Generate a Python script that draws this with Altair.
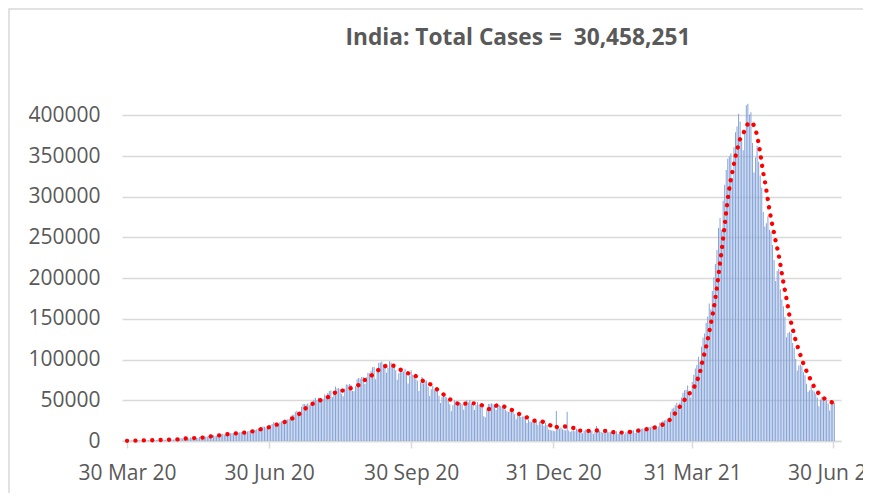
import altair as alt
import pandas as pd

# Daily new cases (values read from the chart / estimated)
mar20 = [227, 146]
apr20 = [437, 545, 478, 515, 506, 1190, 533, 605, 809, 873,
         848, 758, 1243, 1031, 886, 1061, 922, 1371, 1580, 1239,
         1537, 1292, 1667, 1408, 1835, 1607, 1561, 1873, 1738, 1801]
may20 = [2396, 2564, 2952, 3656, 2971, 3602, 3344, 3339, 3175, 4311,
         3592, 3562, 3726, 3967, 3970, 4987, 5050, 4630, 5611, 5609,
         5609, 6088, 6654, 6767, 6977, 6535, 6387, 7466, 7964, 8380,
         8789]
jun20 = [8000, 8600, 8900, 9300, 9400, 9500, 9500, 9500, 9500, 10200,
         10600, 11000, 10600, 9900, 10300, 11800, 12400, 13200, 13900, 13400,
         13500, 14400, 15200, 15500, 16600, 17700, 17400, 16700, 17100, 17800]
jul20 = [19300, 21000, 22900, 22400, 20500, 21000, 22900, 24400, 25000, 26400,
         26500, 26300, 27100, 30100, 32200, 32200, 35900, 37300, 34300, 34800,
         42100, 45500, 45100, 44900, 46000, 44000, 44700, 48100, 50800, 52700,
         50500]
aug20 = [53000, 50000, 50500, 52000, 57000, 55000, 59000, 61500, 62064, 53601,
         60963, 66999, 64553, 65002, 63490, 57981, 55079, 64531, 69652, 68898,
         69878, 69239, 61408, 60975, 67151, 75760, 77266, 76472, 78761, 78512,
         69921]
sep20 = [78357, 83883, 83341, 86432, 90632, 90802, 75809, 89706, 95735, 96551,
         97570, 94372, 92071, 83809, 90123, 97894, 96424, 93337, 92605, 86961,
         75083, 83347, 86508, 86052, 85362, 88600, 82170, 70589, 80472, 86821]
oct20 = [81484, 79476, 75829, 74442, 61267, 72049, 78524, 70496, 73272, 74383,
         66732, 55342, 63509, 67708, 63371, 62212, 61871, 55722, 46790, 54044,
         55839, 54366, 53370, 50129, 45149, 36470, 43893, 49881, 48648, 48268,
         46963]
nov20 = [46964, 45231, 38310, 46253, 50210, 47638, 50357, 45674, 45903, 38073,
         44281, 47905, 44879, 44684, 41100, 30548, 29164, 38617, 45576, 45882,
         46232, 45209, 44059, 37975, 44376, 44489, 43082, 41322, 41810, 38772]
dec20 = [36604, 35551, 36595, 36652, 36011, 32981, 26567, 32080, 31521, 29398,
         30006, 30254, 27071, 22065, 26382, 24010, 22889, 25153, 26624, 24337,
         19556, 23950, 24712, 23068, 18732, 22272, 19500, 14000, 13500, 13000,
         12500]
jan21 = [12000, 37000, 15500, 15000, 16500, 14500, 13500, 13000, 36000, 13000,
         11000, 12500, 13000, 12000, 15000, 14000, 12500, 11000, 9500, 13000,
         14000, 13500, 13000, 13500, 12500, 8500, 11500, 18400, 12000, 12500,
         11000]
feb21 = [10200, 11900, 10800, 11400, 10800, 11100, 10900, 8400, 10200, 11900,
         8600, 11200, 11200, 10700, 8400, 10700, 11900, 12200, 12900, 13100,
         13100, 9700, 12700, 15400, 15300, 15200, 15400, 14300]
mar21 = [12286, 14989, 17407, 16838, 18327, 18711, 18599, 15388, 17921, 22854,
         23285, 24882, 25320, 26291, 24492, 28903, 35871, 39726, 40953, 43846,
         46951, 40715, 47262, 53476, 59118, 62258, 62714, 68020, 56211, 53480,
         72330]
apr21 = [81466, 89129, 93249, 103558, 96982, 115736, 126789, 131968, 145384, 152879,
         168912, 161736, 184372, 200739, 217353, 234692, 261500, 273810, 259170, 295041,
         314835, 332730, 346786, 349691, 352991, 323144, 360960, 379257, 386452, 401993]
may21 = [392488, 368147, 357229, 382315, 412262, 414188, 401078, 403738, 366161, 329942,
         348421, 362727, 343144, 326098, 311170, 281386, 263533, 267334, 276110, 259551,
         257299, 240842, 222315, 196427, 208921, 211298, 186364, 173790, 165553, 152734,
         127510]
jun21 = [132788, 134154, 132364, 120529, 114460, 100636, 86498, 92596, 94052, 91702,
         84332, 80834, 70421, 60471, 62224, 67208, 62480, 60753, 58419, 53256,
         42640, 50848, 54069, 51667, 48698, 50040, 46148, 37566, 45951, 48786]
jul21 = [46617]

cases = (mar20 + apr20 + may20 + jun20 + jul20 + aug20 + sep20 + oct20 + nov20
         + dec20 + jan21 + feb21 + mar21 + apr21 + may21 + jun21 + jul21)
dates = pd.date_range("2020-03-30", "2021-07-01", freq="D").strftime("%Y-%m-%d")
assert len(cases) == len(dates)

tick_dates = ["2020-03-30", "2020-06-30", "2020-09-30", "2020-12-31", "2021-03-31", "2021-06-30"]
y_ticks = [0, 50000, 100000, 150000, 200000, 250000, 300000, 350000, 400000]
title_text = "India: Total Cases =\u00a0 30,458,251"

df = pd.DataFrame({"date": dates, "cases": cases})


def dt(s):
    y, m, d = (int(p) for p in s.split("-"))
    return alt.DateTime(year=y, month=m, date=d, utc=True)


FONT = "Open Sans"
GREY = "#595959"
GRID = "#d9d9d9"

x_scale = alt.Scale(type="utc", domain=[alt.DateTime(year=2020, month=3, date=30, utc=True),
                                        alt.DateTime(year=2021, month=7, date=2, hours=2, utc=True)])
y_scale = alt.Scale(domain=[0, 425000], nice=False)

x_axis = alt.Axis(values=[dt(s) for s in tick_dates],
                  labelExpr="utcFormat(datum.value, '%d %b %y')",
                  title=None, grid=False, domainColor=GRID, domainWidth=1.5,
                  tickColor=GRID, tickWidth=1.5, tickSize=7,
                  labelFont=FONT, labelFontSize=21, labelColor=GREY,
                  labelPadding=14, labelFlush=False, labelOverlap=False)
y_axis = alt.Axis(values=y_ticks, format="d", title=None, domain=False, ticks=False,
                  gridColor=GRID, gridWidth=1.4,
                  labelFont=FONT, labelFontSize=21, labelColor=GREY, labelPadding=22)

base = alt.Chart(df)

bars = base.mark_bar(color="#84a3d8", size=1.0).encode(
    x=alt.X("date:T", scale=x_scale, axis=x_axis),
    y=alt.Y("cases:Q", scale=y_scale, axis=y_axis),
)

line = base.transform_window(
    ma="mean(cases)", frame=[-6, 0], sort=[alt.SortField("date")]
).mark_line(color="#ff0000", strokeWidth=4.3, strokeDash=[0.1, 8.3], strokeCap="round").encode(
    x=alt.X("date:T", scale=x_scale, axis=x_axis),
    y=alt.Y("ma:Q", scale=y_scale, axis=y_axis),
)

one = pd.DataFrame({"t": [title_text]})

border = alt.Chart(one).mark_rect(
    fill=None, stroke=GRID, strokeWidth=1.5
).encode(x=alt.value(-113), x2=alt.value(780), y=alt.value(-86), y2=alt.value(450))

title = alt.Chart(one).mark_text(
    font=FONT, fontSize=22.7, fontWeight="bold", color=GREY, align="center", baseline="alphabetic"
).encode(text="t:N", x=alt.value(396), y=alt.value(-50))

chart = alt.layer(border, bars, line, title).properties(
    width=719, height=346,
    padding={"left": 114, "top": 87, "right": 22, "bottom": 52},
    autosize=alt.AutoSizeParams(type="none"),
    background="white",
).configure_view(stroke=None)

chart.save("out.html", embed_options={"renderer": "svg", "actions": False})
